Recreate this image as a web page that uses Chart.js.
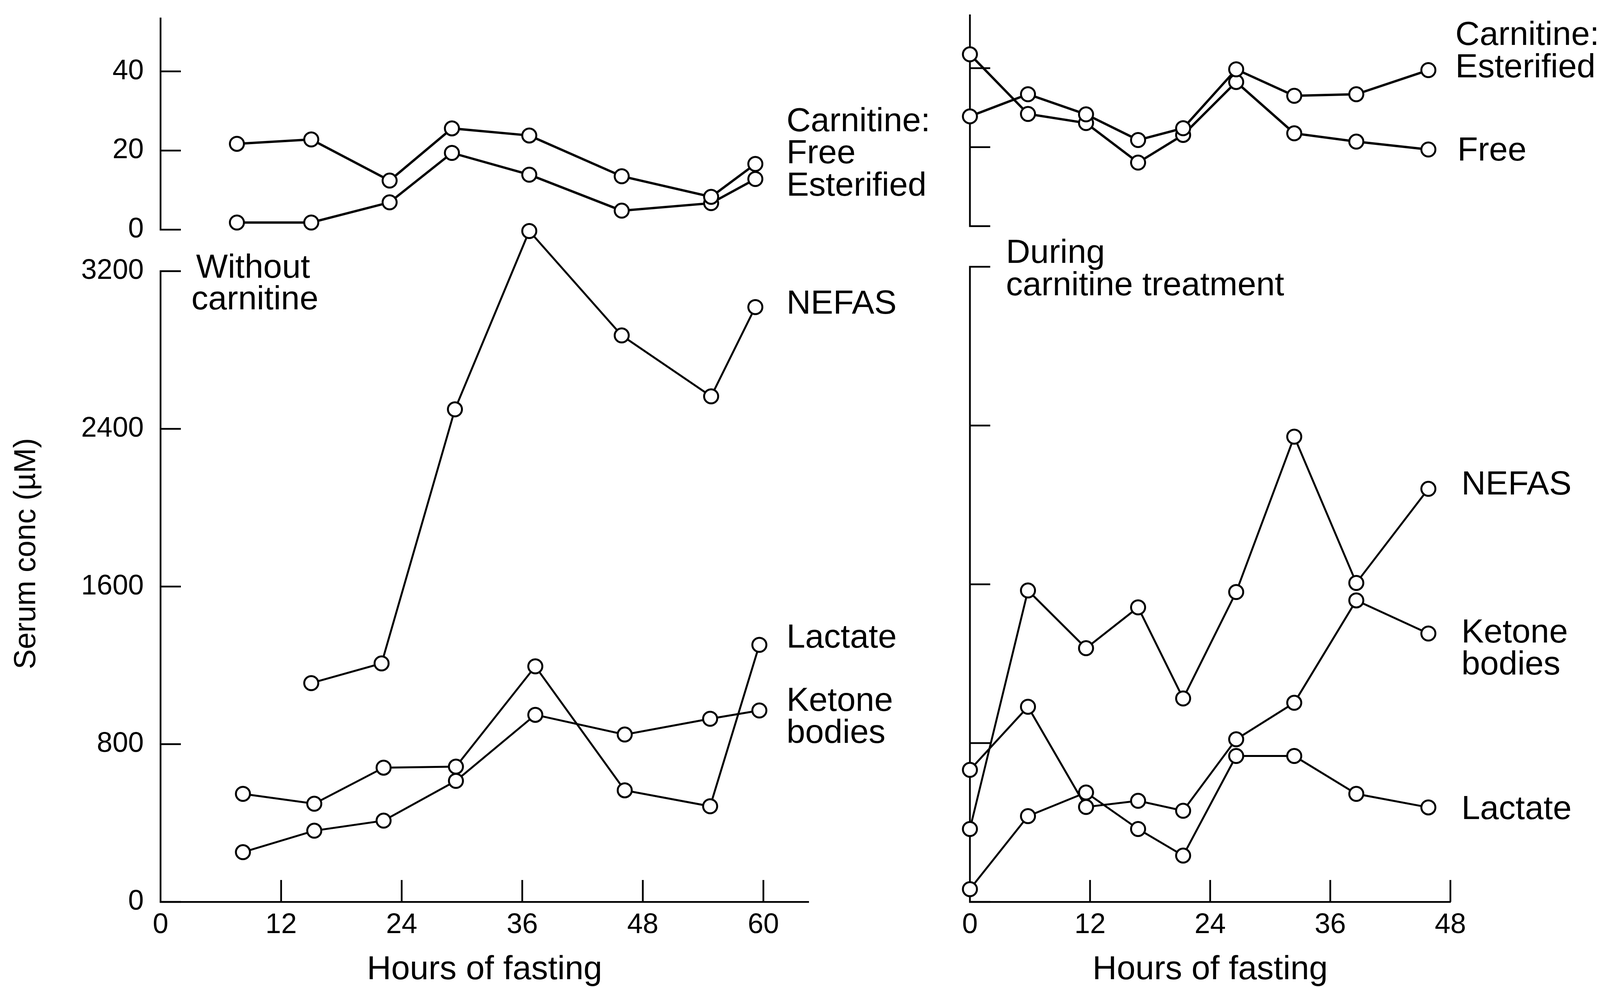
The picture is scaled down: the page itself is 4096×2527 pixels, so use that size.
<!DOCTYPE html>
<html><head><meta charset="utf-8">
<script src="https://cdn.jsdelivr.net/npm/chart.js@4.4.1/dist/chart.umd.min.js"></script>
<style>
html,body{margin:0;padding:0;background:#fff;overflow:hidden;}
#wrap{position:relative;width:4096px;height:2527px;background:#fff;}
canvas{position:absolute;left:0;top:0;}
</style></head><body>
<div id="wrap">
<canvas id="cLL" width="4096" height="2527"></canvas>
<canvas id="cLU" width="4096" height="2527"></canvas>
<canvas id="cRL" width="4096" height="2527"></canvas>
<canvas id="cRU" width="4096" height="2527"></canvas>
</div>
<script>
// ---------- DATA ----------
// Left panel: without carnitine
const leftCarnHours   = [7.6, 15.0, 22.8, 29.0, 36.7, 45.9, 54.8, 59.2];
const leftFreeCarn    = [21.7, 22.8, 12.4, 25.6, 23.8, 13.5, 8.3, 16.6];
const leftEsterCarn   = [1.8, 1.8, 6.9, 19.4, 13.9, 4.8, 6.7, 12.8];
const leftHours       = [8.2, 15.3, 22.2, 29.4, 37.3, 46.2, 54.7, 59.6];
const leftLactate     = [548, 498, 681, 686, 1195, 566, 485, 1304];
const leftKetone      = [252, 361, 412, 614, 949, 849, 929, 971];
const leftNefasHours  = [15.0, 22.0, 29.3, 36.7, 45.9, 54.8, 59.2];
const leftNefas       = [1110, 1210, 2499, 3404, 2874, 2565, 3018];
// Right panel: during carnitine treatment
const rightHours      = [0, 5.8, 11.6, 16.8, 21.3, 26.6, 32.4, 38.6, 45.8];
const rightEsterCarn  = [27.8, 33.4, 28.3, 21.8, 24.8, 39.7, 33.0, 33.4, 39.5];
const rightFreeCarn   = [43.5, 28.4, 26.1, 16.1, 23.1, 36.5, 23.5, 21.4, 19.4];
const rightNefas      = [367, 1569, 1278, 1484, 1025, 1561, 2344, 1607, 2081];
const rightKetone     = [665, 983, 478, 509, 459, 819, 1003, 1519, 1352];
const rightLactate    = [64, 432, 551, 367, 233, 735, 735, 544, 476];
// Tick labels
const leftXTicks  = [0, 12, 24, 36, 48, 60];
const rightXTicks = [0, 12, 24, 36, 48];
const carnYTicks  = [0, 20, 40];
const concYTicks  = [0, 800, 1600, 2400, 3200];
const xTitle = 'Hours of fasting';
const yTitle = 'Serum conc (\u00B5M)';

// ---------- LAYOUT / STYLE ----------
const W = 4096, H = 2527;
const FONT = "'Liberation Sans', Arial, Helvetica, sans-serif";
const TICK_FONT = 72, LABEL_FONT = 86, YTITLE_FONT = 77;
// axisTop: value where the drawn y-axis line ends; yMax: scale maximum
const GEO = {
  LL: {left: 411, right: 2070, top: 543, bottom: 2309, xMax: 64.5, yMax: 3500, axisTop: 3200},
  LU: {left: 411, right: 2070, top: 47,  bottom: 588,  xMax: 64.5, yMax: 53.4, axisTop: 53.4},
  RL: {left: 2483, right: 3713, top: 683, bottom: 2309, xMax: 48, yMax: 3200, axisTop: 3200},
  RU: {left: 2483, right: 3713, top: 39,  bottom: 579,  xMax: 48, yMax: 53.4, axisTop: 53.4}
};

Chart.defaults.font.family = FONT;
Chart.defaults.color = '#000';

const labelsLL = [
  {t: 'Without', x: 3.54, y: 3168}, {t: 'carnitine', x: 3.07, y: 3006},
  {t: 'NEFAS', x: 62.3, y: 2984}, {t: 'Lactate', x: 62.3, y: 1290},
  {t: 'Ketone', x: 62.3, y: 969}, {t: 'bodies', x: 62.3, y: 806},
  {t: yTitle, x: -13.3, y: 1767, rot: true, size: YTITLE_FONT}
];
const labelsLU = [
  {t: 'Carnitine:', x: 62.3, y: 24.9}, {t: 'Free', x: 62.3, y: 16.8}, {t: 'Esterified', x: 62.3, y: 8.6}
];
const labelsRU = [
  {t: 'Carnitine:', x: 48.5, y: 45.9}, {t: 'Esterified', x: 48.5, y: 37.7}, {t: 'Free', x: 48.7, y: 16.6}
];
const labelsRL = [
  {t: 'During', x: 3.6, y: 3220}, {t: 'carnitine treatment', x: 3.6, y: 3057},
  {t: 'NEFAS', x: 49.1, y: 2053}, {t: 'Ketone', x: 49.1, y: 1307},
  {t: 'bodies', x: 49.1, y: 1145}, {t: 'Lactate', x: 49.1, y: 417}
];

// y-axis line and inward tick marks, drawn from the library's own scales
const inwardTicks = {
  id: 'inwardTicks',
  beforeDatasetsDraw(chart, args, opts) {
    const {ctx, chartArea} = chart;
    ctx.save();
    ctx.strokeStyle = '#000';
    ctx.lineWidth = 4.5;
    ctx.lineCap = 'butt';
    const ys = chart.scales.y;
    const x0 = chartArea.left;
    ctx.beginPath();
    ctx.moveTo(x0, ys.getPixelForValue(0) + 2);
    ctx.lineTo(x0, ys.getPixelForValue(opts.axisTop) - 2);
    ctx.stroke();
    ys.ticks.forEach(t => {
      const py = ys.getPixelForValue(t.value);
      ctx.beginPath(); ctx.moveTo(x0 - 2, py); ctx.lineTo(x0 + 52, py); ctx.stroke();
    });
    const xs = chart.scales.x;
    if (xs.options.display) {
      xs.ticks.forEach(t => {
        if (t.value === 0) return;
        const px = xs.getPixelForValue(t.value);
        ctx.beginPath(); ctx.moveTo(px, chartArea.bottom); ctx.lineTo(px, chartArea.bottom - 56); ctx.stroke();
      });
    }
    ctx.restore();
  }
};

const textLabels = {
  id: 'textLabels',
  afterDraw(chart, args, opts) {
    const {ctx} = chart;
    const xs = chart.scales.x, ys = chart.scales.y;
    ctx.save();
    ctx.fillStyle = '#000';
    (opts.items || []).forEach(l => {
      const px = xs.getPixelForValue(l.x), py = ys.getPixelForValue(l.y);
      ctx.font = (l.size || LABEL_FONT) + 'px ' + FONT;
      if (l.rot) {
        ctx.save();
        ctx.translate(px, py);
        ctx.rotate(-Math.PI / 2);
        ctx.textAlign = 'center';
        ctx.textBaseline = 'middle';
        ctx.fillText(l.t, 0, 0);
        ctx.restore();
      } else {
        ctx.textAlign = 'left';
        ctx.textBaseline = 'alphabetic';
        ctx.fillText(l.t, px, py);
      }
    });
    ctx.restore();
  }
};

function series(xs, ys, lw) {
  return {
    data: xs.map((x, i) => ({x: x, y: ys[i]})),
    borderColor: '#000', borderWidth: lw,
    pointRadius: 18, pointBorderWidth: 5,
    pointBackgroundColor: '#fff', pointBorderColor: '#000',
    tension: 0, fill: false, clip: false
  };
}

function makeChart(id, g, datasets, opts) {
  const showX = !!opts.xTicks;
  g.adjL = 0;
  const pad = {left: 0, right: W - g.right, top: g.top, bottom: showX ? 0 : H - g.bottom};
  const chart = new Chart(document.getElementById(id), {
    type: 'line',
    data: {datasets: datasets},
    plugins: [inwardTicks, textLabels],
    options: {
      responsive: false, animation: false, devicePixelRatio: 1,
      layout: {padding: Object.assign({}, pad)},
      plugins: {
        legend: {display: false}, tooltip: {enabled: false},
        textLabels: {items: opts.labels},
        inwardTicks: {axisTop: g.axisTop}
      },
      scales: {
        x: {
          type: 'linear', min: 0, max: g.xMax, display: showX,
          afterBuildTicks: s => { s.ticks = (opts.xTicks || [0]).map(v => ({value: v})); },
          afterFit: s => { s.height = showX ? (H - g.bottom) : 0; s.paddingLeft = 0; s.paddingRight = 0; },
          ticks: {padding: 17, font: {size: TICK_FONT}, color: '#000', maxRotation: 0, autoSkip: false,
                  callback: v => String(v)},
          grid: {display: false, drawTicks: false},
          border: {display: true, color: '#000', width: 4.5},
          title: {display: true, text: xTitle, color: '#000', font: {size: LABEL_FONT, lineHeight: 1}, padding: {top: 0, bottom: 1}}
        },
        y: {
          type: 'linear', min: 0, max: g.yMax, position: 'left',
          afterBuildTicks: s => { s.ticks = opts.yTicks.map(v => ({value: v})); },
          afterFit: s => { s.width = g.left + g.adjL; s.paddingTop = 0; s.paddingBottom = 0; },
          ticks: {display: opts.yLabels, padding: 43, font: {size: TICK_FONT}, color: '#000',
                  callback: v => String(v)},
          grid: {display: false, drawTicks: false},
          border: {display: false}
        }
      }
    }
  });
  // make the plot area land exactly where the layout wants it
  for (let i = 0; i < 4; i++) {
    const a = chart.chartArea;
    const dt = g.top - a.top, db = g.bottom - a.bottom, dl = g.left - a.left, dr = g.right - a.right;
    if (Math.abs(dt) < 0.5 && Math.abs(db) < 0.5 && Math.abs(dl) < 0.5 && Math.abs(dr) < 0.5) break;
    pad.top += dt; pad.right -= dr;
    if (!showX) pad.bottom -= db;
    g.adjL += dl;
    chart.config.options.layout.padding = Object.assign({}, pad);
    chart.update();
  }
  return chart;
}

makeChart('cLL', GEO.LL, [
  series(leftNefasHours, leftNefas, 5),
  series(leftHours, leftLactate, 5),
  series(leftHours, leftKetone, 5)
], {xTicks: leftXTicks, yTicks: concYTicks, yLabels: true, labels: labelsLL});

makeChart('cLU', GEO.LU, [
  series(leftCarnHours, leftFreeCarn, 6),
  series(leftCarnHours, leftEsterCarn, 6)
], {xTicks: null, yTicks: carnYTicks, yLabels: true, labels: labelsLU});

makeChart('cRL', GEO.RL, [
  series(rightHours, rightNefas, 5),
  series(rightHours, rightKetone, 5),
  series(rightHours, rightLactate, 5)
], {xTicks: rightXTicks, yTicks: concYTicks, yLabels: false, labels: labelsRL});

makeChart('cRU', GEO.RU, [
  series(rightHours, rightEsterCarn, 6),
  series(rightHours, rightFreeCarn, 6)
], {xTicks: null, yTicks: carnYTicks, yLabels: false, labels: labelsRU});
</script>
</body></html>
